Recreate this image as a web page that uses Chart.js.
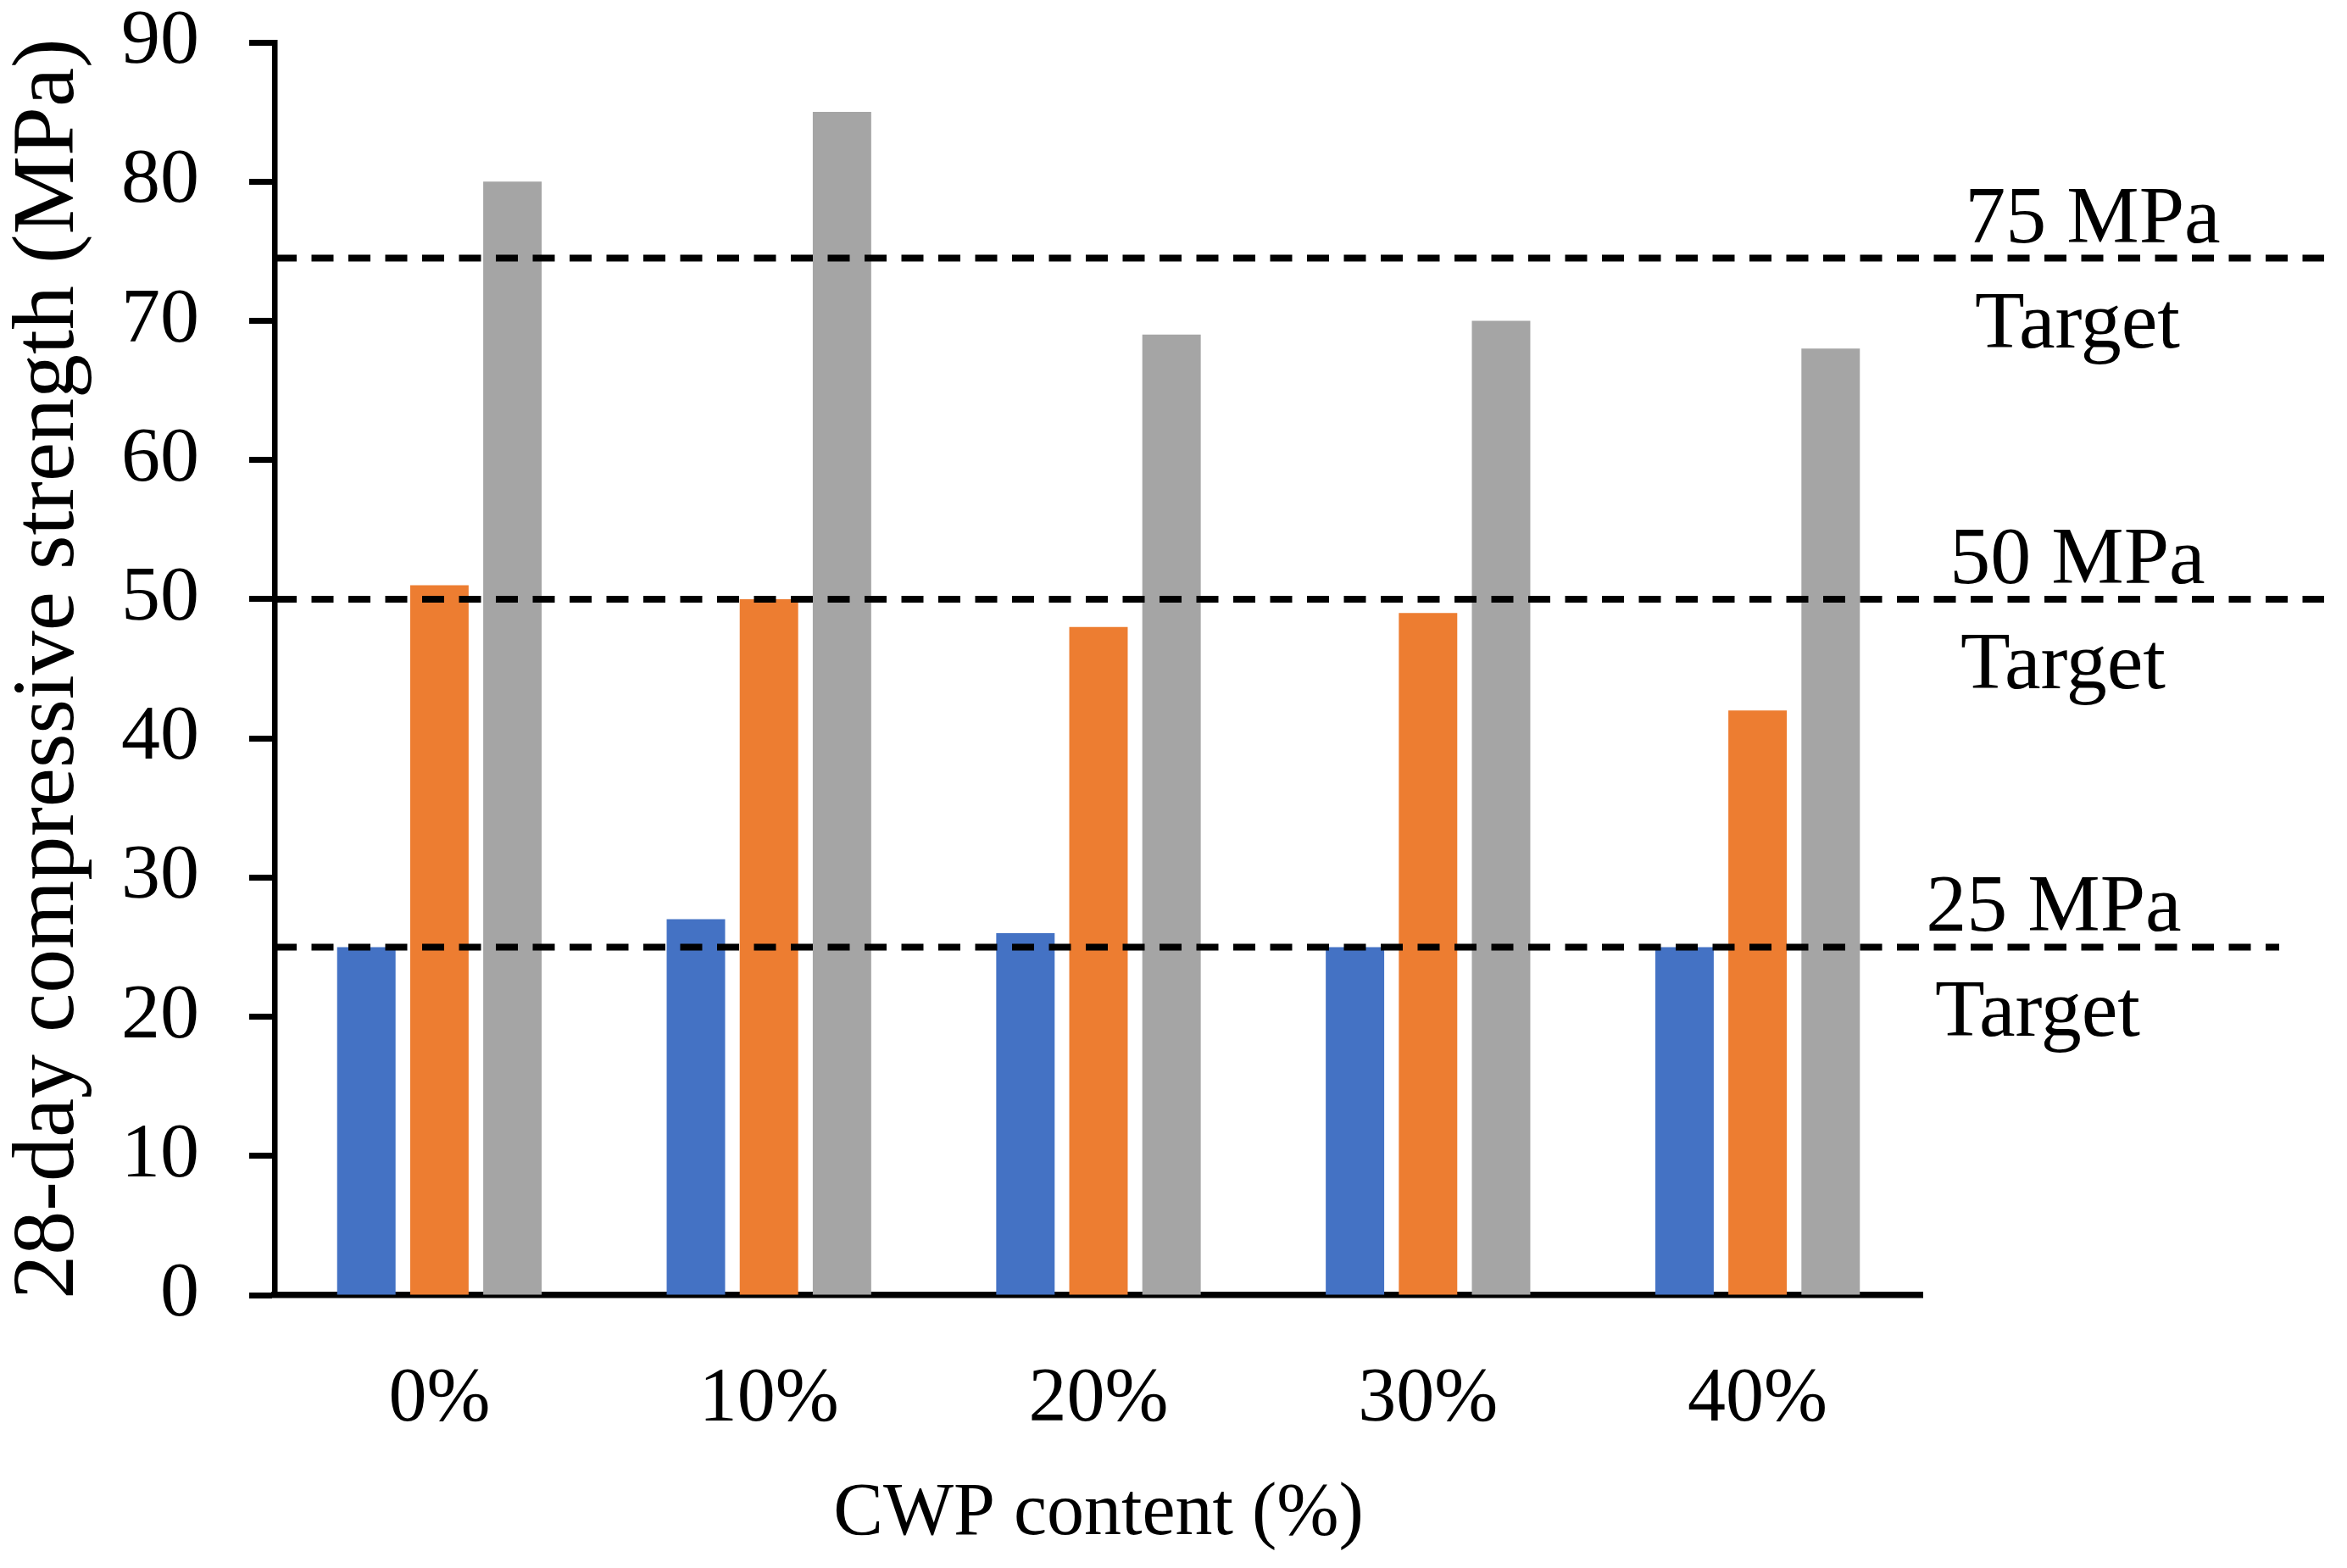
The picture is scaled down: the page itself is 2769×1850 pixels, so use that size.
<!DOCTYPE html>
<html>
<head>
<meta charset="utf-8">
<title>28-day compressive strength vs CWP content</title>
<script src="https://cdn.jsdelivr.net/npm/chart.js@4.4.1/dist/chart.umd.min.js"></script>
<style>
  html, body { margin: 0; padding: 0; background: #ffffff; }
  #wrap { width: 2769px; height: 1850px; }
</style>
</head>
<body>
<div id="wrap"><canvas id="chart" width="2769" height="1850"></canvas></div>
<script>
// Chart data
const categories = ['0%', '10%', '20%', '30%', '40%'];
const mix25 = [25, 27, 26, 25, 25];
const mix50 = [51, 50, 48, 49, 42];
const mix75 = [80, 85, 69, 70, 68];
const yTicks = [0, 10, 20, 30, 40, 50, 60, 70, 80, 90];

// Dashed target lines (the 75 MPa line sits a little under 75 in the original)
const targetValues = [74.5, 50, 25];
const targetLabels = ['75 MPa', '50 MPa', '25 MPa'];
const targetSub = ['Target', 'Target', 'Target'];

const serif = '"Liberation Serif", "Times New Roman", serif';

// Draws dashed target lines + their labels, using the y scale for position
const targetPlugin = {
  id: 'targets',
  afterDatasetsDraw(chart) {
    const ctx = chart.ctx;
    const y = chart.scales.y;
    const left = chart.chartArea.left;
    const lineEnds = [2742, 2742, 2689];
    const labelX = [2469, 2451, 2423];
    const subX = [2451, 2434, 2404];
    ctx.save();
    targetValues.forEach((v, i) => {
      const py = y.getPixelForValue(v);
      ctx.beginPath();
      ctx.setLineDash([26, 17.5]);
      ctx.lineWidth = 8;
      ctx.strokeStyle = '#000000';
      ctx.moveTo(left, py);
      ctx.lineTo(lineEnds[i], py);
      ctx.stroke();

      ctx.setLineDash([]);
      ctx.fillStyle = '#000000';
      ctx.font = '96px ' + serif;
      ctx.textAlign = 'center';
      ctx.textBaseline = 'alphabetic';
      ctx.fillText(targetLabels[i], labelX[i], py - 19);
      ctx.fillText(targetSub[i], subX[i], py + 105);
    });
    ctx.restore();
  }
};

const ctx = document.getElementById('chart').getContext('2d');
new Chart(ctx, {
  type: 'bar',
  data: {
    labels: categories,
    datasets: [
      { label: '25 MPa mix', data: mix25, backgroundColor: '#4472C4' },
      { label: '50 MPa mix', data: mix50, backgroundColor: '#ED7D31' },
      { label: '75 MPa mix', data: mix75, backgroundColor: '#A5A5A5' },
    ],
  },
  options: {
    responsive: false,
    animation: false,
    devicePixelRatio: 1,
    layout: { padding: { top: 50, right: 501, bottom: 0, left: 0 } },
    datasets: { bar: { categoryPercentage: 0.665, barPercentage: 0.8 } },
    plugins: { legend: { display: false }, tooltip: { enabled: false } },
    scales: {
      x: {
        grid: { display: true, drawOnChartArea: false, drawTicks: false },
        border: { display: true, color: '#000000', width: 7.5 },
        ticks: { color: '#000000', padding: 79, font: { family: serif, size: 90, lineHeight: 1 } },
        title: {
          display: true, text: 'CWP content (%)', color: '#000000',
          font: { family: serif, size: 88, lineHeight: 1 }, padding: { top: 0, bottom: 19 }
        },
        afterFit(scale) {
          scale.height = 322;
          scale.paddingLeft = 0;
          scale.paddingRight = 0;
        }
      },
      y: {
        min: 0,
        max: 90,
        afterBuildTicks(scale) { scale.ticks = yTicks.map(v => ({ value: v })); },
        grid: { drawOnChartArea: false, drawTicks: true, tickLength: 30, tickWidth: 7, tickColor: '#000000' },
        border: { display: true, color: '#000000', width: 6.5 },
        ticks: { color: '#000000', padding: 59, font: { family: serif, size: 92, lineHeight: 1 } },
        title: {
          display: true, text: '28-day compressive strength (MPa)', color: '#000000',
          font: { family: serif, size: 104, lineHeight: 1 }, padding: { top: 7, bottom: 0 }
        },
        afterFit(scale) {
          scale.width = 324;
          scale.paddingTop = 0;
          scale.paddingBottom = 0;
        }
      }
    }
  },
  plugins: [targetPlugin]
});
</script>
</body>
</html>
